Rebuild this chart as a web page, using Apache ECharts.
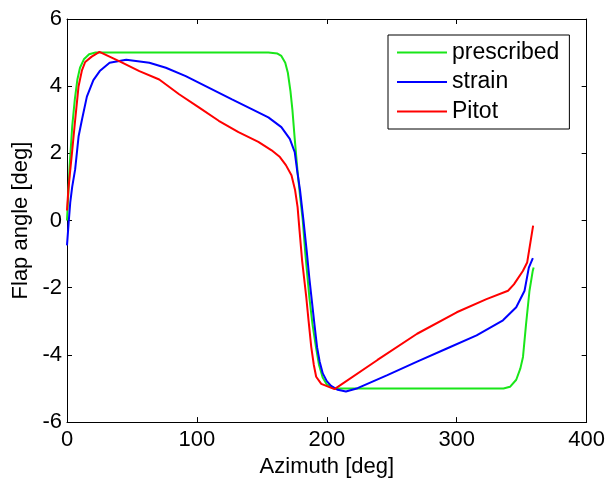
<!DOCTYPE html>
<html>
<head>
<meta charset="utf-8">
<script src="https://cdn.jsdelivr.net/npm/echarts@6/dist/echarts.min.js"></script>
<style>
html,body{margin:0;padding:0;background:#fff;}
#chart{width:608px;height:483px;}
</style>
</head>
<body>
<div id="chart"></div>
<script>
const xTicks = [0, 100, 200, 300, 400];
const yTicks = [-6, -4, -2, 0, 2, 4, 6];
const seriesNames = ['prescribed', 'strain', 'Pitot'];

const prescribedX = [0, 2, 4, 6, 8, 10, 13, 17, 22, 155, 162, 165, 168, 170, 172, 173.5, 175.3, 177.5, 179.5, 181.5, 183.5, 186.6, 189, 191.7, 194, 196.8, 200, 206, 336, 341, 345.8, 349, 351, 353.4, 356, 358.5, 359.2];
const prescribedY = [0, 1.6, 2.8, 3.6, 4.2, 4.55, 4.8, 4.95, 5.0, 5.0, 4.97, 4.9, 4.7, 4.4, 3.85, 3.3, 2.43, 1.45, 0.7, 0.0, -1.0, -2.3, -3.1, -3.78, -4.3, -4.67, -4.88, -5.0, -5.0, -4.95, -4.74, -4.4, -4.06, -3.07, -2.09, -1.5, -1.4];

const strainX = [0, 1.2, 2.5, 4, 6.3, 8.9, 11.5, 15.3, 20.3, 25.2, 32.8, 45.6, 63.4, 76.1, 91.4, 109, 127, 142.2, 155, 165, 171.5, 175.3, 177.3, 179.4, 181.9, 184.5, 186.5, 188.5, 190.5, 192.5, 194.5, 196.9, 200, 203.3, 208.4, 214.7, 223.7, 246.6, 269.5, 292.4, 315.3, 335.6, 345.8, 352.2, 355.5, 358.6];
const strainY = [-0.74, -0.1, 0.54, 1.0, 1.53, 2.5, 3.0, 3.69, 4.18, 4.45, 4.7, 4.79, 4.7, 4.55, 4.3, 3.96, 3.61, 3.32, 3.07, 2.78, 2.43, 2.04, 1.45, 0.9, 0.05, -0.9, -1.7, -2.4, -3.1, -3.77, -4.2, -4.55, -4.78, -4.92, -5.04, -5.09, -4.99, -4.6, -4.2, -3.81, -3.42, -2.97, -2.58, -2.09, -1.4, -1.12];

const pitotX = [0, 1, 2.5, 3.8, 6.3, 8.9, 11.5, 14, 19, 25, 40.5, 55.7, 71, 86.3, 101.5, 116.8, 132, 147.3, 157.5, 163.9, 168.5, 172.8, 175.6, 177.5, 179, 181, 184.2, 186, 188, 190, 191.8, 195.7, 205.9, 239, 269.5, 300, 322.9, 339.5, 344, 350.9, 354.2, 358.8];
const pitotY = [0.3, 0.9, 1.5, 2.0, 3.0, 4.0, 4.47, 4.72, 4.88, 5.02, 4.74, 4.45, 4.2, 3.76, 3.37, 2.97, 2.63, 2.34, 2.09, 1.89, 1.65, 1.35, 0.9, 0.4, -0.3, -1.2, -2.29, -3.0, -3.76, -4.3, -4.65, -4.86, -5.02, -4.15, -3.37, -2.73, -2.34, -2.09, -1.9, -1.5, -1.25, -0.15];

const colors = ['#19e619', '#0000ff', '#ff0000'];

function zip(xs, ys) { return xs.map((x, i) => [x, ys[i]]); }

const FONT = "'Liberation Sans', Arial, sans-serif";
const axisLineStyle = { show: true, onZero: false, lineStyle: { color: '#000', width: 1 } };
const tickStyle = { show: true, inside: true, length: 5, lineStyle: { color: '#000', width: 1 } };

const chart = echarts.init(document.getElementById('chart'), null, { renderer: 'canvas' });
chart.setOption({
  animation: false,
  backgroundColor: '#fff',
  color: colors,
  grid: { left: 67, right: 17, top: 19, bottom: 57, containLabel: false },
  legend: {
    data: seriesNames,
    orient: 'vertical',
    left: 388,
    top: 35,
    padding: [6, 10, 6, 9],
    itemGap: 6.5,
    itemWidth: 50,
    itemHeight: 2,
    itemTextGap: 4,
    icon: 'rect',
    borderColor: '#000',
    borderWidth: 1,
    backgroundColor: '#fff',
    textStyle: { fontFamily: FONT, fontSize: 23, color: '#000', lineHeight: 23 }
  },
  xAxis: [
    {
      type: 'value', min: xTicks[0], max: xTicks[xTicks.length - 1], interval: 100,
      position: 'bottom',
      name: 'Azimuth [deg]', nameLocation: 'middle', nameGap: 30,
      nameTextStyle: { fontFamily: FONT, fontSize: 22, color: '#000' },
      axisLine: axisLineStyle, axisTick: tickStyle,
      axisLabel: { fontFamily: FONT, fontSize: 22, color: '#000', margin: 7 },
      splitLine: { show: false }
    },
    {
      type: 'value', min: xTicks[0], max: xTicks[xTicks.length - 1], interval: 100,
      position: 'top',
      axisLine: axisLineStyle, axisTick: tickStyle,
      axisLabel: { show: false }, splitLine: { show: false }
    }
  ],
  yAxis: [
    {
      type: 'value', min: yTicks[0], max: yTicks[yTicks.length - 1], interval: 2,
      position: 'left',
      name: 'Flap angle [deg]', nameLocation: 'middle', nameGap: 29,
      nameTextStyle: { fontFamily: FONT, fontSize: 22, color: '#000' },
      axisLine: axisLineStyle, axisTick: tickStyle,
      axisLabel: { fontFamily: FONT, fontSize: 22, color: '#000', margin: 5 },
      splitLine: { show: false }
    },
    {
      type: 'value', min: yTicks[0], max: yTicks[yTicks.length - 1], interval: 2,
      position: 'right',
      axisLine: axisLineStyle, axisTick: tickStyle,
      axisLabel: { show: false }, splitLine: { show: false }
    }
  ],
  series: [
    { name: seriesNames[0], type: 'line', data: zip(prescribedX, prescribedY), symbol: 'none', lineStyle: { width: 2, color: colors[0] }, itemStyle: { color: colors[0] }, z: 2 },
    { name: seriesNames[1], type: 'line', data: zip(strainX, strainY), symbol: 'none', lineStyle: { width: 2, color: colors[1] }, itemStyle: { color: colors[1] }, z: 3 },
    { name: seriesNames[2], type: 'line', data: zip(pitotX, pitotY), symbol: 'none', lineStyle: { width: 2, color: colors[2] }, itemStyle: { color: colors[2] }, z: 4 }
  ]
});
</script>
</body>
</html>
